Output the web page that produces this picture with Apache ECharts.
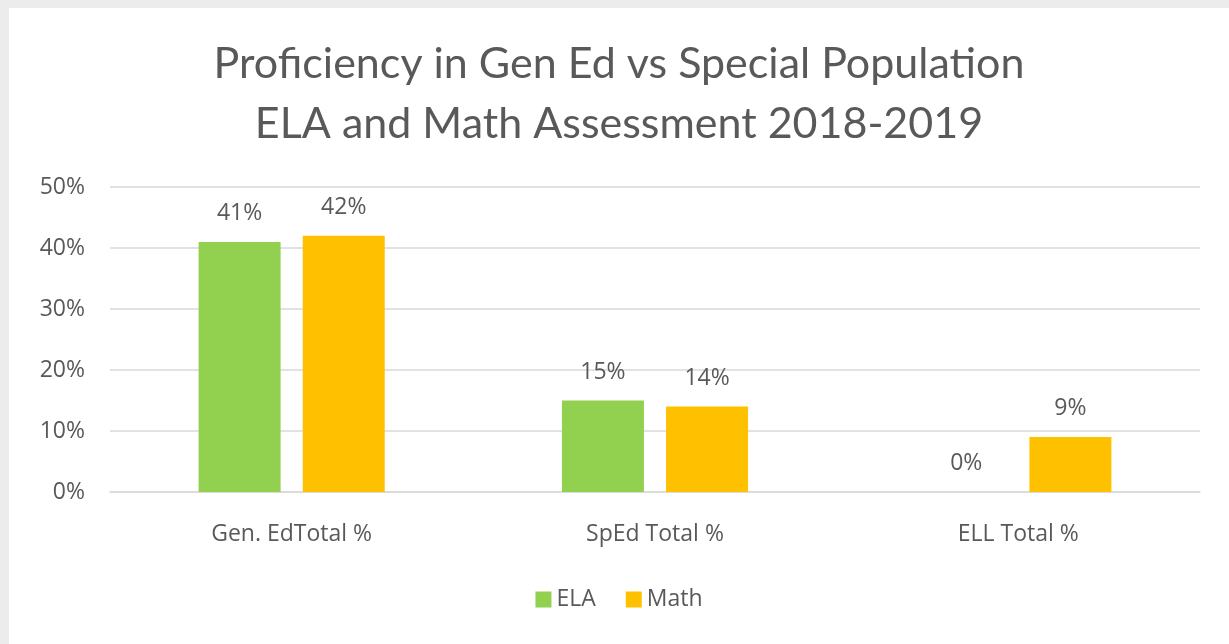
<!DOCTYPE html>
<html>
<head>
<meta charset="utf-8">
<script src="https://cdn.jsdelivr.net/npm/echarts@6/dist/echarts.min.js"></script>
<style>
  html, body { margin: 0; padding: 0; background: #ececec; }
  #chart { position: absolute; left: 9px; top: 8px; width: 1220px; height: 636px; background: #fff; }
</style>
</head>
<body>
<div id="chart"></div>
<script>
const categories = ['Gen. EdTotal %', 'SpEd Total %', 'ELL Total %'];
const elaValues = [41, 15, 0];
const mathValues = [42, 14, 9];
const yTicks = [0, 10, 20, 30, 40, 50];

const titleFont = 'Lato, "Open Sans", sans-serif';
const font = '"Open Sans", Lato, sans-serif';
const textColor = '#595959';

let option = {
    textStyle: { fontFamily: font },
    title: {
        text: 'Proficiency in Gen Ed vs Special Population\nELA and Math Assessment 2018-2019',
        left: 'center',
        top: 21,
        textStyle: {
            fontFamily: titleFont,
            fontWeight: 'normal',
            fontSize: 43,
            lineHeight: 60,
            color: textColor
        }
    },
    legend: {
        bottom: 28,
        left: 'center',
        itemWidth: 16,
        itemHeight: 16,
        itemGap: 30,
        icon: 'rect',
        textStyle: { fontSize: 23, color: textColor, fontFamily: font },
        data: ['ELA', 'Math']
    },
    grid: {
        left: 101,
        right: 29,
        top: 179,
        bottom: 152
    },
    xAxis: {
        type: 'category',
        data: categories,
        axisTick: { show: false },
        axisLine: { lineStyle: { color: '#d9d9d9', width: 1.5 } },
        axisLabel: { margin: 31, fontSize: 23, color: textColor, fontFamily: font }
    },
    yAxis: {
        type: 'value',
        min: yTicks[0],
        max: yTicks[yTicks.length - 1],
        interval: 10,
        axisLine: { show: false },
        axisTick: { show: false },
        splitLine: { lineStyle: { color: '#d9d9d9', width: 1.5 } },
        axisLabel: {
            margin: 25,
            fontSize: 23,
            color: textColor,
            fontFamily: font,
            formatter: '{value}%'
        }
    },
    series: [{
        name: 'ELA',
        type: 'bar',
        data: elaValues,
        barWidth: 82,
        barGap: '27%',
        itemStyle: { color: '#92d050' },
        label: {
            show: true,
            position: 'top',
            distance: 17,
            fontSize: 23,
            color: textColor,
            fontFamily: font,
            formatter: '{c}%'
        }
    }, {
        name: 'Math',
        type: 'bar',
        data: mathValues,
        barWidth: 82,
        itemStyle: { color: '#ffc000' },
        label: {
            show: true,
            position: 'top',
            distance: 17,
            fontSize: 23,
            color: textColor,
            fontFamily: font,
            formatter: '{c}%'
        }
    }]
};

let chart = echarts.init(document.getElementById('chart'));
chart.setOption(option);
</script>
</body>
</html>
